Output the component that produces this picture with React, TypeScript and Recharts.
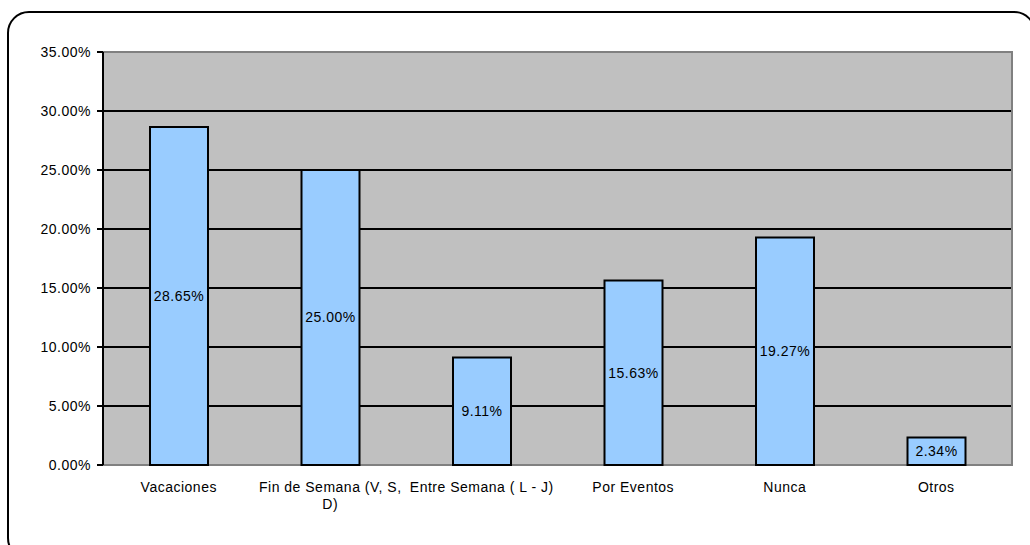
import React from "react";
import {
  BarChart,
  Bar,
  XAxis,
  YAxis,
  CartesianGrid,
  LabelList,
  ReferenceArea,
} from "recharts";

// Survey answers (share of respondents, %)
const categories = [
  "Vacaciones",
  "Fin de Semana (V, S, D)",
  "Entre Semana ( L - J)",
  "Por Eventos",
  "Nunca",
  "Otros",
];
const values = [28.65, 25.0, 9.11, 15.63, 19.27, 2.34];
const yTicks = [0, 5, 10, 15, 20, 25, 30, 35];
const gridValues = [5, 10, 15, 20, 25, 30];
const boundaryTicks = [0, 1, 2, 3, 4, 5, 6];

const FONT = "'Liberation Sans', Arial, sans-serif";
const SPACING = 0.5;

const data = categories.map((name, i) => ({ name, value: values[i], pos: i + 0.5 }));

// Excel-style wrapping: long labels break at the last space that fits
function splitLabel(label: string, max = 21): string[] {
  if (label.length <= max) return [label];
  const cut = label.lastIndexOf(" ", max);
  return [label.slice(0, cut), label.slice(cut + 1)];
}

function CategoryTick(props: any) {
  const { x, y, payload } = props;
  const lines = splitLabel(String(payload.value));
  return (
    <text
      x={x}
      y={y}
      textAnchor="middle"
      fill="#000"
      fontSize={14}
      fontFamily={FONT}
      letterSpacing={SPACING}
    >
      {lines.map((line, i) => (
        <tspan key={i} x={x} dy={i === 0 ? 19 : 17}>
          {line}
        </tspan>
      ))}
    </text>
  );
}

export default function App() {
  return (
    <div
      style={{
        position: "absolute",
        left: 0,
        top: 0,
        width: 1030,
        height: 545,
        overflow: "hidden",
        background: "#fff",
      }}
    >
      {/* rounded chart-area frame, runs off the page on the right and bottom */}
      <div
        style={{
          position: "absolute",
          left: 7,
          top: 11,
          width: 1025,
          height: 545,
          border: "2px solid #000",
          borderRadius: 22,
        }}
      />
      <div style={{ position: "absolute", left: 0, top: 0 }}>
        <BarChart
          width={1030}
          height={545}
          data={data}
          margin={{ top: 52, right: 18, bottom: 30, left: 0 }}
          barSize={58}
        >
          <CartesianGrid
            vertical={false}
            horizontalValues={gridValues}
            stroke="#000"
            strokeWidth={2}
            fill="#C0C0C0"
            fillOpacity={1}
          />
          <ReferenceArea
            y1={0}
            y2={35}
            fill="none"
            stroke="#808080"
            strokeWidth={2}
            ifOverflow="visible"
          />
          <XAxis
            xAxisId="edges"
            type="number"
            dataKey="pos"
            domain={[0, 6]}
            ticks={boundaryTicks}
            height={0}
            tick={false}
            tickSize={6}
            axisLine={{ stroke: "#000", strokeWidth: 2 }}
            tickLine={{ stroke: "#000", strokeWidth: 2 }}
          />
          <XAxis
            dataKey="name"
            interval={0}
            height={50}
            axisLine={false}
            tickLine={false}
            tick={<CategoryTick />}
          />
          <YAxis
            width={103}
            domain={[0, 35]}
            ticks={yTicks}
            interval={0}
            tickSize={6}
            tickMargin={6}
            axisLine={{ stroke: "#000", strokeWidth: 2 }}
            tickLine={{ stroke: "#000", strokeWidth: 2 }}
            tick={{ fill: "#000", fontSize: 14, fontFamily: FONT, letterSpacing: SPACING }}
            tickFormatter={(v: number) => `${v.toFixed(2)}%`}
          />
          <Bar
            dataKey="value"
            fill="#99CCFF"
            stroke="#000"
            strokeWidth={2}
            isAnimationActive={false}
          >
            <LabelList
              dataKey="value"
              position="center"
              fill="#000"
              fontSize={14}
              fontFamily={FONT}
              letterSpacing={SPACING}
              formatter={(v: any) => `${Number(v).toFixed(2)}%`}
            />
          </Bar>
        </BarChart>
      </div>
    </div>
  );
}
